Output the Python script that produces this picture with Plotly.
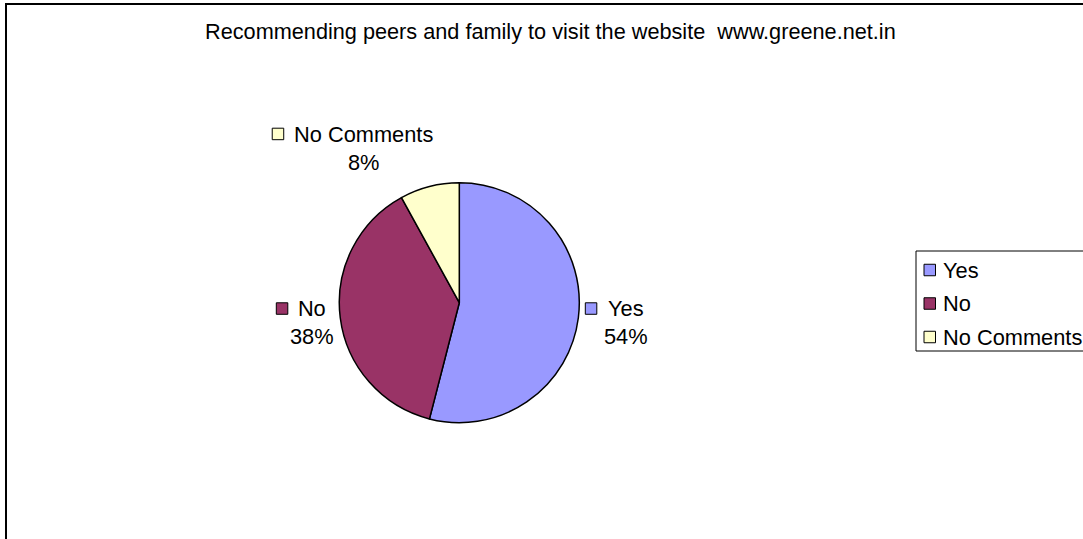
import math
import plotly.graph_objects as go

# Survey answers
labels = ["Yes", "No", "No Comments"]
values = [54, 38, 8]
colors = ["#9999FF", "#993366", "#FFFFCC"]
title_text = "Recommending peers and family to visit the website\u00a0 www.greene.net.in"

W, H = 1083, 539
FONT = "Liberation Sans, Arial, sans-serif"
FS = 21.8
LH = 1.3 * FS            # annotation line height

CX, CY, R = 459.3, 302.7, 120   # pie centre / radius in pixels
LABEL_R = 127                   # distance of label anchor from centre
KEY = 11.5                      # legend key square size
KEY_GAP = 22                    # key left edge to text left edge


def fx(x):
    return x / W


def fy(y):
    return 1 - y / H


# Arial / Liberation Sans advance widths (per 1000 em)
ADV = {"Y": 667, "e": 556, "s": 500, "N": 722, "o": 556, " ": 278, "C": 722,
       "m": 833, "n": 556, "t": 278, "%": 889}


def text_w(s, size=FS):
    return sum(ADV.get(c, 556) for c in s) * size / 1000


fig = go.Figure()

fig.add_trace(go.Pie(
    labels=labels,
    values=values,
    sort=False,
    direction="clockwise",
    rotation=0,
    marker=dict(colors=colors, line=dict(color="#000000", width=1.5)),
    textinfo="none",
    showlegend=False,
    domain=dict(x=[fx(CX - R), fx(CX + R)], y=[fy(CY + R), fy(CY - R)]),
))

annotations = []
shapes = []

# Chart frame
shapes.append(dict(type="rect", xref="paper", yref="paper",
                   x0=fx(6), x1=fx(1100), y0=fy(560), y1=fy(4),
                   line=dict(color="#000000", width=2), fillcolor="rgba(0,0,0,0)"))

# Title
annotations.append(dict(xref="paper", yref="paper", x=fx(550), y=fy(31),
                        text=title_text, showarrow=False,
                        xanchor="center", yanchor="middle",
                        font=dict(family=FONT, size=21.7, color="#000000")))

# Data labels with keys, placed outside each slice
total = sum(values)
cum = 0
for lab, v, col in zip(labels, values, colors):
    mid = (cum + v / 2) / total * 2 * math.pi
    cum += v
    ux, uy = math.sin(mid), -math.cos(mid)
    px_, py_ = CX + LABEL_R * ux, CY + LABEL_R * uy
    pct = f"{round(v / total * 100)}%"
    l1 = text_w(lab)
    tw = max(l1, text_w(pct))
    if ux >= 0:
        tx = px_ + max(tw / 2, l1 / 2 + KEY_GAP)
    else:
        tx = px_ - tw / 2 + 6 * abs(uy)
    ty = py_ + LH * uy * 1.15
    annotations.append(dict(xref="paper", yref="paper", x=fx(tx), y=fy(ty),
                            text=f"{lab}<br>{pct}", showarrow=False,
                            xanchor="center", yanchor="middle", align="center",
                            font=dict(family=FONT, size=FS, color="#000000")))
    kx = tx - l1 / 2 - KEY_GAP
    ky = ty - LH / 2
    shapes.append(dict(type="rect", xref="paper", yref="paper",
                       x0=fx(kx), x1=fx(kx + KEY), y0=fy(ky + KEY / 2), y1=fy(ky - KEY / 2),
                       line=dict(color="#000000", width=1), fillcolor=col))

# Legend box
shapes.append(dict(type="rect", xref="paper", yref="paper",
                   x0=fx(916), x1=fx(1095), y0=fy(351), y1=fy(251),
                   line=dict(color="#000000", width=1), fillcolor="#FFFFFF"))
for i, (lab, col) in enumerate(zip(labels, colors)):
    yc = 270 + 33.5 * i
    shapes.append(dict(type="rect", xref="paper", yref="paper",
                       x0=fx(924), x1=fx(924 + KEY), y0=fy(yc + KEY / 2), y1=fy(yc - KEY / 2),
                       line=dict(color="#000000", width=1), fillcolor=col))
    annotations.append(dict(xref="paper", yref="paper", x=fx(941), y=fy(yc),
                            text=lab, showarrow=False,
                            xanchor="left", yanchor="middle",
                            font=dict(family=FONT, size=FS, color="#000000")))

fig.update_layout(
    width=W, height=H,
    margin=dict(l=0, r=0, t=0, b=0),
    paper_bgcolor="#FFFFFF",
    plot_bgcolor="#FFFFFF",
    annotations=annotations,
    shapes=shapes,
)

fig.write_html("out.html")
